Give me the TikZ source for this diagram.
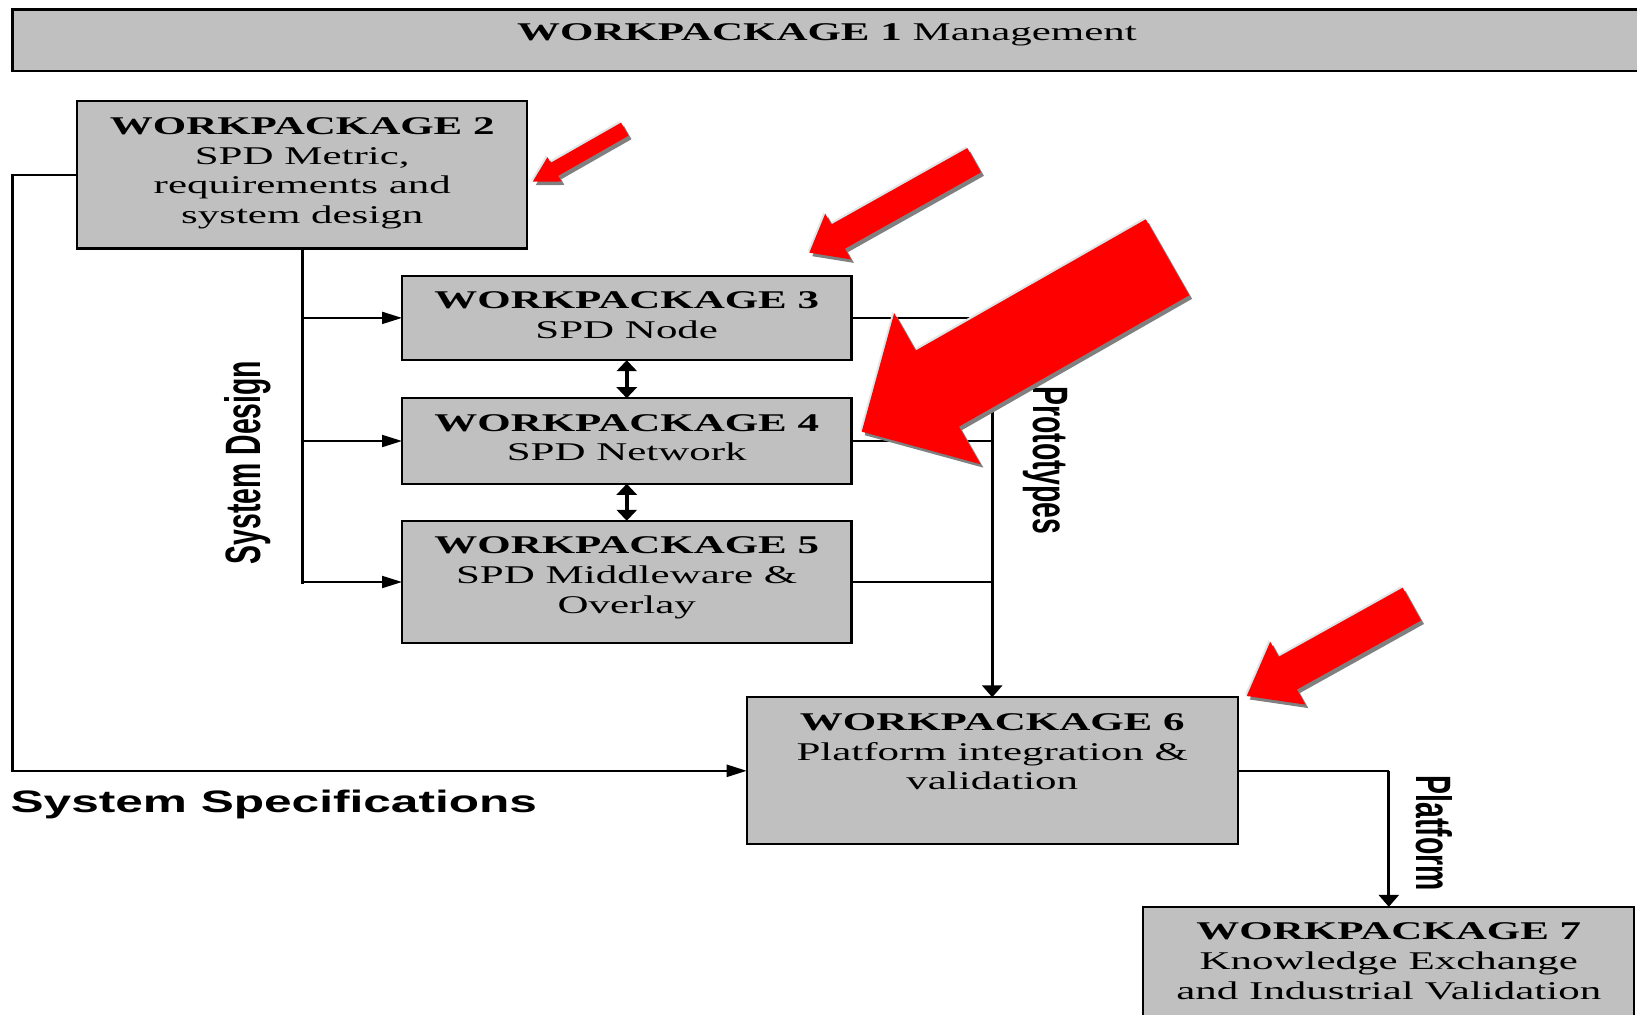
\documentclass[tikz,border=0pt]{standalone}
\usepackage{fontspec}
\setmainfont{Liberation Serif}[FakeStretch=1.685]
\newfontfamily\labelfont{Liberation Sans}[FakeStretch=1.6]
\newfontfamily\sidefont{Liberation Sans}[FakeStretch=0.571]
\usetikzlibrary{arrows.meta}

\definecolor{boxgray}{HTML}{C0C0C0}
\definecolor{arrowred}{HTML}{FF0000}
\definecolor{shadowgray}{HTML}{808080}
\definecolor{edgegray}{HTML}{E4E4E4}

\tikzset{
  wpbox/.style={draw=black, fill=boxgray, line width=2.2pt, inner sep=0pt, outer sep=0pt},
  wptext/.style={anchor=north, inner sep=0pt, align=center, font=\fontsize{25.5}{29.7}\selectfont},
  hline/.style={line width=2pt},
  vline/.style={line width=3pt},
  conn/.style={line width=2.4pt},
  htip/.style={-{Triangle[length=20pt,width=12pt]}},
  vtip/.style={-{Triangle[length=12pt,width=20pt]}},
  biarrow/.style={line width=3.5pt, {Triangle[length=11pt,width=20pt]}-{Triangle[length=11pt,width=20pt]}},
  sidelabel/.style={inner sep=0pt, anchor=base, font=\sidefont\bfseries\fontsize{49.7}{50}\selectfont},
}

% block arrow with a light rim and a drop shadow:
% #1 tip, #2 angle, #3 length, #4 half shaft width, #5 half head width, #6 head length
\newcommand\redpointer[6]{%
  \foreach \dx/\dy/\col in {-1.6/-1.6/edgegray, 3/3.5/shadowgray, 0/0/arrowred}{
    \fill[fill=\col, shift={#1}, shift={(\dx,\dy)}, rotate=#2]
      (0,0) -- (#6,#5) -- (#6,#4) -- (#3,#4) -- (#3,-#4) -- (#6,-#4) -- (#6,-#5) -- cycle;
  }%
}

\begin{document}
\begin{tikzpicture}[x=1pt, y=-1pt]
  \useasboundingbox (0,0) rectangle (1637,1014);
  \fill[white] (0,0) rectangle (1637,1014);
  \clip (0,0) rectangle (1637,1014);

  % work package boxes
  \node[wpbox, minimum width=1647.5, minimum height=61.2] (wp1) at (836.25,40.1) {};
  \node[wpbox, minimum width=449.9, minimum height=147.2] (wp2) at (302.25,174.9) {};
  \node[wpbox, minimum width=449.5, minimum height=84.6]  (wp3) at (626.75,317.9) {};
  \node[wpbox, minimum width=449.5, minimum height=85.6]  (wp4) at (626.75,441) {};
  \node[wpbox, minimum width=449.5, minimum height=122.4] (wp5) at (626.75,582) {};
  \node[wpbox, minimum width=491,   minimum height=147]   (wp6) at (992.2,770.8) {};
  \node[wpbox, minimum width=491,   minimum height=123]   (wp7) at (1388.8,968.3) {};

  % box texts
  \node[wptext] (t1) at (827,23.8) {\textbf{WORKPACKAGE 1} Management};
  \node[wptext] (t2) at (302.25,117.3) {\textbf{WORKPACKAGE 2}\\SPD Metric,\\requirements and\\system design};
  \node[wptext] (t3) at (626.75,291.6) {\textbf{WORKPACKAGE 3}\\SPD Node};
  \node[wptext] (t4) at (626.75,414.2) {\textbf{WORKPACKAGE 4}\\SPD Network};
  \node[wptext] (t5) at (626.75,536.8) {\textbf{WORKPACKAGE 5}\\SPD Middleware \&\\Overlay};
  \node[wptext] (t6) at (992.2,713.3) {\textbf{WORKPACKAGE 6}\\Platform integration \&\\validation};
  \node[wptext] (t7) at (1388.8,922.8) {\textbf{WORKPACKAGE 7}\\Knowledge Exchange\\and Industrial Validation};

  % system specifications loop
  \coordinate (specbend) at (12.5,770.8);
  \draw[conn, htip] (wp2.west) -| (specbend) -- (wp6.west);

  % system design trunk and branches
  \coordinate (trunk) at (302.25,582);
  \draw[vline, line cap=rect] (wp2.south) -- (trunk);
  \draw[hline, htip] (wp3.west -| trunk) -- (wp3.west);
  \draw[hline, htip] (wp4.west -| trunk) -- (wp4.west);
  \draw[hline, htip] (wp5.west -| trunk) -- (wp5.west);

  % links between the technical packages
  \draw[biarrow] (wp3.south) -- (wp4.north);
  \draw[biarrow] (wp4.south) -- (wp5.north);

  % prototypes collector
  \draw[hline] (wp3.east) -- (wp3.east -| wp6.north);
  \draw[hline] (wp4.east) -- (wp4.east -| wp6.north);
  \draw[hline] (wp5.east) -- (wp5.east -| wp6.north);
  \draw[vline, vtip] (wp3.east -| wp6.north) -- (wp6.north);

  % platform hand-over
  \draw[hline] (wp6.east) -- (wp6.east -| wp7.north);
  \draw[vline, vtip] (wp6.east -| wp7.north) -- (wp7.north);

  % flow labels
  \node[anchor=base west, inner sep=0pt, font=\labelfont\bfseries\fontsize{31}{34}\selectfont]
    (specs) at (10.4,812) {System Specifications};
  \node[sidelabel, rotate=90]  (sysdesign)  at (260,462.5)    {System Design};
  \node[sidelabel, rotate=-90] (prototypes) at (1033.3,460.4) {Prototypes};
  \node[sidelabel, rotate=-90] (platform)   at (1416.7,833.3) {Platform};

  % highlight pointers
  \redpointer{(532.7,181.7)}{29.7}{106}{7.5}{14}{25}
  \redpointer{(809.3,252.7)}{29.3}{189}{13.9}{26.2}{33}
  \redpointer{(861.7,431.7)}{29.7}{352}{43.75}{87}{87}
  \redpointer{(1246.7,696)}{29.1}{189}{18.75}{36}{47}
\end{tikzpicture}
\end{document}
